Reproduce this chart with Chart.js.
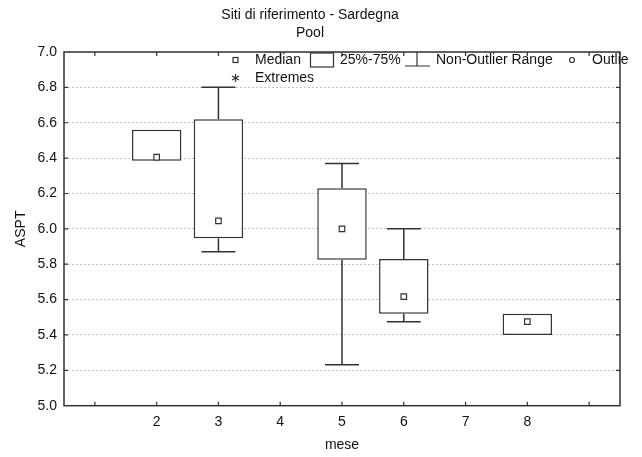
<!DOCTYPE html>
<html lang="it">
<head>
    <meta charset="UTF-8">
    <title>Siti di riferimento - Sardegna</title>
    <script src="https://cdn.jsdelivr.net/npm/chart.js"></script>
    <style>
        body { margin: 0; background: #fff; }
        #wrap { width: 642px; height: 457px; }
    </style>
</head>
<body>
    <div id="wrap">
        <canvas id="myChart" width="642" height="457"></canvas>
    </div>

    <script>
        // mesi (le posizioni vuote ai lati come nel grafico originale)
        var mesi    = ['', '2', '3', '4', '5', '6', '7', '8', ''];
        var mediane = [null, 6.405, 6.045, null, 6.00, 5.617, null, 5.475, null];
        var q1      = [null, 6.385, 5.947, null, 5.825, 5.52, null, 5.40, null];
        var q3      = [null, 6.56, 6.62, null, 6.23, 5.83, null, 5.52, null];
        var minimi  = [null, 6.385, 5.87, null, 5.232, 5.475, null, 5.40, null];
        var massimi = [null, 6.56, 6.80, null, 6.37, 6.00, null, 5.52, null];
        var yTicks  = [5.0, 5.2, 5.4, 5.6, 5.8, 6.0, 6.2, 6.4, 6.6, 6.8, 7.0];

        var lineColor = '#333';

        // baffi (non-outlier range)
        var whiskers = {
            id: 'whiskers',
            afterDatasetsDraw: function(chart) {
                var ctx = chart.ctx, x = chart.scales.x, y = chart.scales.y;
                var half = (x.getPixelForValue(1) - x.getPixelForValue(0)) * 0.275;
                ctx.save();
                ctx.strokeStyle = lineColor;
                ctx.lineWidth = 1.5;
                for (var i = 0; i < mesi.length; i++) {
                    if (minimi[i] == null) continue;
                    var px = x.getPixelForValue(i);
                    ctx.beginPath();
                    if (massimi[i] > q3[i]) {
                        var top = y.getPixelForValue(massimi[i]);
                        ctx.moveTo(px, y.getPixelForValue(q3[i]));
                        ctx.lineTo(px, top);
                        ctx.moveTo(px - half, top);
                        ctx.lineTo(px + half, top);
                    }
                    if (minimi[i] < q1[i]) {
                        var bot = y.getPixelForValue(minimi[i]);
                        ctx.moveTo(px, y.getPixelForValue(q1[i]));
                        ctx.lineTo(px, bot);
                        ctx.moveTo(px - half, bot);
                        ctx.lineTo(px + half, bot);
                    }
                    ctx.stroke();
                }
                ctx.restore();
            }
        };

        // cornice, tacche interne e legenda
        var frame = {
            id: 'frame',
            afterDraw: function(chart) {
                var ctx = chart.ctx, a = chart.chartArea, x = chart.scales.x, y = chart.scales.y;
                ctx.save();
                ctx.strokeStyle = lineColor;
                ctx.lineWidth = 1.5;
                ctx.strokeRect(a.left, a.top, a.right - a.left, a.bottom - a.top);

                ctx.lineWidth = 1.2;
                ctx.beginPath();
                for (var i = 0; i < mesi.length; i++) {
                    var px = x.getPixelForValue(i);
                    ctx.moveTo(px, a.bottom); ctx.lineTo(px, a.bottom - 4);
                    ctx.moveTo(px, a.top); ctx.lineTo(px, a.top + 4);
                }
                for (var j = 1; j < yTicks.length - 1; j++) {
                    var py = y.getPixelForValue(yTicks[j]);
                    ctx.moveTo(a.left, py); ctx.lineTo(a.left + 4, py);
                    ctx.moveTo(a.right, py); ctx.lineTo(a.right - 4, py);
                }
                ctx.stroke();

                // legenda (tagliata poco oltre il bordo destro come nell'originale)
                ctx.beginPath();
                ctx.rect(a.left, a.top, a.right - a.left + 8, a.bottom - a.top);
                ctx.clip();
                var r1 = a.top + 8, r2 = a.top + 26;
                ctx.fillStyle = '#111';
                ctx.font = '14px "Liberation Sans", Arial, sans-serif';
                ctx.textBaseline = 'middle';
                ctx.fillText('Median', 255, r1);
                ctx.fillText('25%-75%', 340, r1);
                ctx.fillText('Non-Outlier Range', 436, r1);
                ctx.fillText('Outliers', 592, r1);
                ctx.fillText('Extremes', 255, r2);

                ctx.lineWidth = 1.2;
                ctx.strokeStyle = lineColor;
                ctx.fillStyle = '#fff';
                ctx.fillRect(233, r1 - 2.5, 5, 5);
                ctx.strokeRect(233, r1 - 2.5, 5, 5);
                ctx.strokeRect(310.5, a.top + 1, 23, 14);
                ctx.beginPath();
                ctx.moveTo(417, a.top); ctx.lineTo(417, a.top + 14);
                ctx.moveTo(405, a.top + 14); ctx.lineTo(430, a.top + 14);
                ctx.stroke();
                ctx.beginPath();
                ctx.arc(572, r1, 2.5, 0, Math.PI * 2);
                ctx.stroke();
                // asterisco
                ctx.beginPath();
                ctx.moveTo(235.5, r2 - 4); ctx.lineTo(235.5, r2 + 4);
                ctx.moveTo(232, r2 - 2); ctx.lineTo(239, r2 + 2);
                ctx.moveTo(232, r2 + 2); ctx.lineTo(239, r2 - 2);
                ctx.stroke();
                ctx.restore();
            }
        };

        Chart.defaults.font.family = '"Liberation Sans", Arial, sans-serif';
        Chart.defaults.font.size = 14;
        Chart.defaults.color = '#111';

        var ctx = document.querySelector('#myChart');
        var myChart = new Chart(ctx, {
            type: 'bar',
            data: {
                labels: mesi,
                datasets: [{
                    label: '25%-75%',
                    data: q1.map(function(v, i) { return v == null ? null : [q1[i], q3[i]]; }),
                    backgroundColor: '#fff',
                    borderColor: lineColor,
                    borderWidth: 1.5,
                    borderSkipped: false,
                    barPercentage: 0.8,
                    categoryPercentage: 1,
                    order: 2
                }, {
                    type: 'line',
                    label: 'Median',
                    data: mediane,
                    showLine: false,
                    pointStyle: 'rect',
                    pointRadius: 3.9,
                    pointBackgroundColor: '#fff',
                    pointBorderColor: lineColor,
                    pointBorderWidth: 1.2,
                    order: 1
                }]
            },
            options: {
                responsive: false,
                animation: false,
                events: [],
                layout: { padding: { left: 0, right: 22, top: 0, bottom: 0 } },
                plugins: {
                    legend: { display: false },
                    tooltip: { enabled: false },
                    title: {
                        display: true,
                        text: ['Siti di riferimento - Sardegna', 'Pool'],
                        color: '#111',
                        font: { size: 14, weight: 'normal', lineHeight: 1.3 },
                        padding: { top: 6, bottom: 9.6 }
                    }
                },
                scales: {
                    x: {
                        grid: { display: false, drawTicks: false },
                        border: { display: false },
                        ticks: { padding: 8, autoSkip: false, maxRotation: 0, color: '#111' },
                        title: { display: true, text: 'mese', color: '#111', padding: { top: 0, bottom: 3 } },
                        afterFit: function(s) { s.height = 51.3; }
                    },
                    y: {
                        min: 5.0,
                        max: 7.0,
                        afterBuildTicks: function(s) {
                            s.ticks = yTicks.map(function(v) { return { value: v }; });
                        },
                        grid: { color: '#c4c4c4', lineWidth: 1, drawTicks: false },
                        border: { display: false, dash: [2, 2] },
                        ticks: {
                            padding: 7,
                            color: '#111',
                            callback: function(v) { return Number(v).toFixed(1); }
                        },
                        title: { display: true, text: 'ASPT', color: '#111', padding: { top: 12.3, bottom: 0 } },
                        afterFit: function(s) { s.width = 64; }
                    }
                }
            },
            plugins: [whiskers, frame]
        });
    </script>
</body>
</html>
